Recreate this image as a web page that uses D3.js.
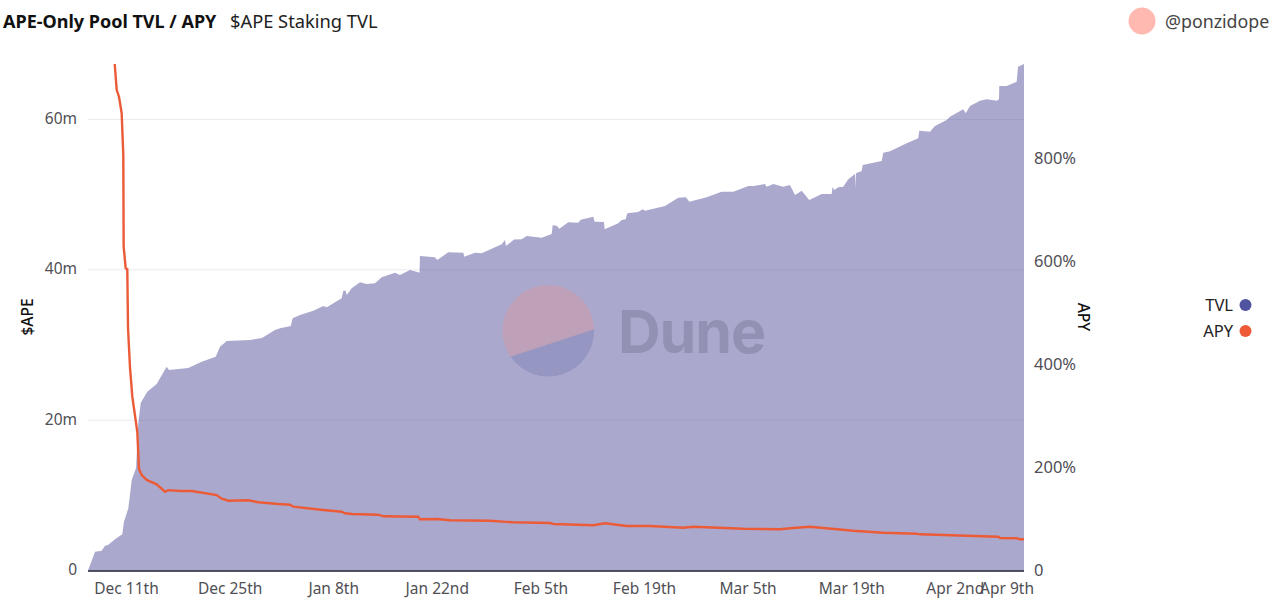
<!DOCTYPE html>
<html>
<head>
<meta charset="utf-8">
<script src="https://cdn.jsdelivr.net/npm/d3@7"></script>
<style>
  html, body { margin: 0; padding: 0; background: #fff; overflow: hidden; }
  text { font-family: "Noto Sans", sans-serif; }
  .domain { display: none; }
</style>
</head>
<body>
<div id="chart"></div>
<script>
// days counted from Dec 11th 2022
const tvlDays = [-5.27,-4.32,-3.42,-2.97,-2.57,-1.62,-0.64,-0.41,0.18,0.64,1.22,1.53,1.85,2.74,4.01,5.36,5.68,8.28,10.09,11.99,12.57,13.47,16.62,18.24,20.0,20.68,22.12,22.39,23.38,25.18,26.53,26.99,29.01,29.23,29.55,29.69,30.36,31.49,32.39,33.51,34.42,36.22,36.89,38.24,39.15,39.53,39.59,41.62,41.93,43.42,45.45,45.58,47.03,47.93,50.64,51.08,51.22,52.30,53.34,54.01,56.04,57.39,57.53,58.07,58.42,59.64,60.99,61.31,63.01,63.20,64.46,64.55,66.39,66.85,67.39,67.61,69.09,69.69,70.0,72.70,74.50,75.54,75.99,78.34,80.36,81.93,83.96,84.64,86.22,86.45,87.34,88.69,89.59,90.27,91.18,92.20,93.88,95.23,95.36,95.58,96.12,96.80,97.47,98.38,98.42,98.51,99.28,99.42,101.99,102.20,103.11,105.36,106.93,107.07,108.51,109.19,110.77,111.22,113.01,113.34,113.92,115.27,116.18,117.53,117.84,117.88,118.88,120.23,120.41,121.22];
// millions of $APE
const tvlValues = [0,2.50,2.63,3.30,3.39,4.15,4.82,6.49,8.27,12.04,13.64,19.62,22.28,23.79,24.81,27.11,26.67,26.94,27.78,28.44,29.77,30.53,30.66,30.93,31.99,32.22,32.53,33.55,33.99,34.56,35.19,35.01,36.21,37.22,37.22,36.65,37.54,38.34,38.11,38.21,39.00,39.62,39.31,39.98,39.75,39.62,41.84,41.67,41.31,42.33,42.28,41.75,42.28,42.20,43.39,43.97,43.17,44.03,44.06,44.50,44.27,44.76,45.92,45.87,45.47,46.32,46.27,46.67,47.07,46.40,46.36,45.39,46.19,46.63,46.72,47.52,47.69,48.05,47.86,48.49,49.59,49.65,49.06,49.65,50.39,50.39,51.15,51.15,51.42,51.06,51.42,51.06,51.28,49.95,50.53,49.29,50.09,50.09,51.06,50.62,50.98,51.06,52.04,52.75,50.89,52.84,53.15,53.95,54.48,55.58,55.77,56.83,57.50,58.51,58.37,59.13,59.93,60.37,61.35,60.82,61.79,62.50,62.68,62.50,62.68,64.45,64.45,65.02,67.02,67.38];

const apyDays = [-1.66,-1.39,-1.08,-0.72,-0.50,-0.45,-0.18,0.04,0.14,0.41,0.72,1.39,1.62,1.99,2.66,4.01,5.14,5.58,7.16,8.74,12.12,12.80,13.69,16.39,17.74,20.45,22.03,22.47,26.53,29.01,29.46,30.37,33.96,34.64,39.36,39.59,41.85,43.65,49.05,52.20,57.16,57.61,63.01,64.59,67.53,70.68,75.18,76.53,83.28,88.24,90.04,92.30,98.15,102.20,106.72,107.16,117.74,117.97,120.23,120.68,121.22];
// percent
const apyValues = [982.5,932,919,887,806,628,586,584,469,392,336.5,268.5,196,184.5,175,166.4,152,155,153.4,153.4,145.6,138.4,134.6,135.3,131.5,128.2,126.8,122.9,116.5,113.2,110.1,108.7,107.4,104.3,103.5,98.4,99.0,96.5,95.7,92.6,91.3,89.3,86.8,90.7,85.4,85.4,82.1,84.1,80.2,79.0,81.6,84.1,76.3,72.4,70.5,69.3,64.7,62.1,61.6,59.6,59.6];

const tickDays = [0,14,28,42,56,70,84,98,112,119];
const tickLabels = ["Dec 11th","Dec 25th","Jan 8th","Jan 22nd","Feb 5th","Feb 19th","Mar 5th","Mar 19th","Apr 2nd","Apr 9th"];
const leftTicks = [0,20,40,60];
const rightTicks = [0,200,400,600,800];
const legendNames = ["TVL","APY"];
const legendColors = ["#50539f","#ee5a38"];

const width = 1280;
const height = 603;
const margin = { top: 64, right: 256, bottom: 32.5, left: 88 };
const baseDate = Date.UTC(2022, 11, 11);
const toDate = d => new Date(baseDate + d * 864e5);

const svg = d3.select('#chart')
    .append('svg')
    .attr('width', width)
    .attr('height', height)
    .style('display', 'block');

const xScale = d3.scaleUtc()
    .domain([toDate(tvlDays[0]), toDate(tvlDays[tvlDays.length - 1])])
    .range([margin.left, width - margin.right]);

const yLeft = d3.scaleLinear()
    .domain([0, 67.38])
    .range([height - margin.bottom, margin.top]);

const yRight = d3.scaleLinear()
    .domain([0, 800])
    .range([570, 158]);

// gridlines sit behind the area
svg.append('g')
    .selectAll('line')
    .data(leftTicks.slice(1))
    .join('line')
    .attr('x1', margin.left)
    .attr('x2', width - margin.right)
    .attr('y1', d => yLeft(d))
    .attr('y2', d => yLeft(d))
    .attr('stroke', '#f1f1f3')
    .attr('stroke-width', 1);

const area = d3.area()
    .x((d, i) => xScale(toDate(tvlDays[i])))
    .y0(yLeft(0))
    .y1(d => yLeft(d));

svg.append('path')
    .datum(tvlValues)
    .attr('fill', '#52509a')
    .attr('fill-opacity', 0.49)
    .attr('d', area);

// grid shows faintly through the area
svg.append('g')
    .selectAll('line')
    .data(leftTicks.slice(1))
    .join('line')
    .attr('x1', margin.left)
    .attr('x2', width - margin.right)
    .attr('y1', d => yLeft(d))
    .attr('y2', d => yLeft(d))
    .attr('stroke', '#52509a')
    .attr('stroke-opacity', 0.04);

// watermark
const wm = svg.append('g').attr('transform', 'translate(548.3,330.8)');
wm.append('path')
    .attr('d', 'M-37.75,25.95 A45.8,45.8 0 1 1 45.77,-1.5 Z')
    .attr('fill', '#f0908a')
    .attr('fill-opacity', 0.3);
wm.append('path')
    .attr('d', 'M-37.75,25.95 A45.8,45.8 0 0 0 45.77,-1.5 Z')
    .attr('fill', '#50539f')
    .attr('fill-opacity', 0.22);
svg.append('text')
    .attr('x', 618)
    .attr('y', 352.5)
    .attr('fill', '#50506e')
    .attr('fill-opacity', 0.27)
    .style('font-family', 'Inter, sans-serif')
    .style('font-size', '59px')
    .style('font-weight', 700)
    .style('letter-spacing', '-1px')
    .text('Dune');

const line = d3.line()
    .x((d, i) => xScale(toDate(apyDays[i])))
    .y(d => yRight(d));

svg.append('path')
    .datum(apyValues)
    .attr('fill', 'none')
    .attr('stroke', '#ec5b38')
    .attr('stroke-width', 2.4)
    .attr('d', line);

// baseline
svg.append('line')
    .attr('x1', margin.left)
    .attr('x2', width - margin.right)
    .attr('y1', yLeft(0) + 0.5)
    .attr('y2', yLeft(0) + 0.5)
    .attr('stroke', '#1c1c35')
    .attr('stroke-width', 1.5);

const styleAxis = size => g => {
    g.selectAll('.tick line').remove();
    g.selectAll('text')
        .attr('fill', '#4f4f55')
        .style('font-size', size)
        .style('font-family', '"Noto Sans", sans-serif');
};

svg.append('g')
    .attr('transform', `translate(-1,${height - margin.bottom})`)
    .call(d3.axisBottom(xScale)
        .tickValues(tickDays.map(toDate))
        .tickFormat((d, i) => tickLabels[i])
        .tickSize(0)
        .tickPadding(12.5))
    .call(styleAxis('15.5px'));

svg.append('g')
    .attr('transform', `translate(${margin.left - 11},-1)`)
    .call(d3.axisLeft(yLeft)
        .tickValues(leftTicks)
        .tickFormat(d => d === 0 ? '0' : d + 'm')
        .tickSize(0)
        .tickPadding(0))
    .call(styleAxis('15.5px'));

svg.append('g')
    .attr('transform', `translate(${width - margin.right + 10},0)`)
    .call(d3.axisRight(yRight)
        .tickValues(rightTicks)
        .tickFormat(d => d === 0 ? '0' : d + '%')
        .tickSize(0)
        .tickPadding(0))
    .call(styleAxis('16.5px'));

// axis titles
svg.append('text')
    .attr('transform', 'translate(33,317) rotate(-90)')
    .attr('text-anchor', 'middle')
    .attr('fill', '#111')
    .style('font-size', '15.5px')
    .style('font-weight', 500)
    .text('$APE');

svg.append('text')
    .attr('transform', 'translate(1078,317) rotate(90)')
    .attr('text-anchor', 'middle')
    .attr('fill', '#111')
    .style('font-size', '15.5px')
    .style('font-weight', 500)
    .text('APY');

// legend
const legend = svg.append('g')
    .selectAll('g')
    .data(legendNames)
    .join('g')
    .attr('transform', (d, i) => `translate(0,${305 + i * 26})`);

legend.append('text')
    .attr('x', 1233)
    .attr('y', 6)
    .attr('text-anchor', 'end')
    .attr('fill', '#222')
    .style('font-size', '16.5px')
    .text(d => d);

legend.append('circle')
    .attr('cx', 1245.5)
    .attr('r', 6)
    .attr('fill', (d, i) => legendColors[i]);

// header
svg.append('text')
    .attr('x', 3)
    .attr('y', 28)
    .attr('fill', '#111')
    .style('font-size', '18px')
    .style('font-weight', 700)
    .text('APE-Only Pool TVL / APY');

svg.append('text')
    .attr('x', 230)
    .attr('y', 28)
    .attr('fill', '#222')
    .style('font-size', '18.3px')
    .text('$APE Staking TVL');

svg.append('circle')
    .attr('cx', 1142)
    .attr('cy', 21)
    .attr('r', 13.5)
    .attr('fill', '#ffb9b0');

svg.append('text')
    .attr('x', 1165)
    .attr('y', 28)
    .attr('fill', '#444')
    .style('font-size', '17.8px')
    .text('@ponzidope');
</script>
</body>
</html>
